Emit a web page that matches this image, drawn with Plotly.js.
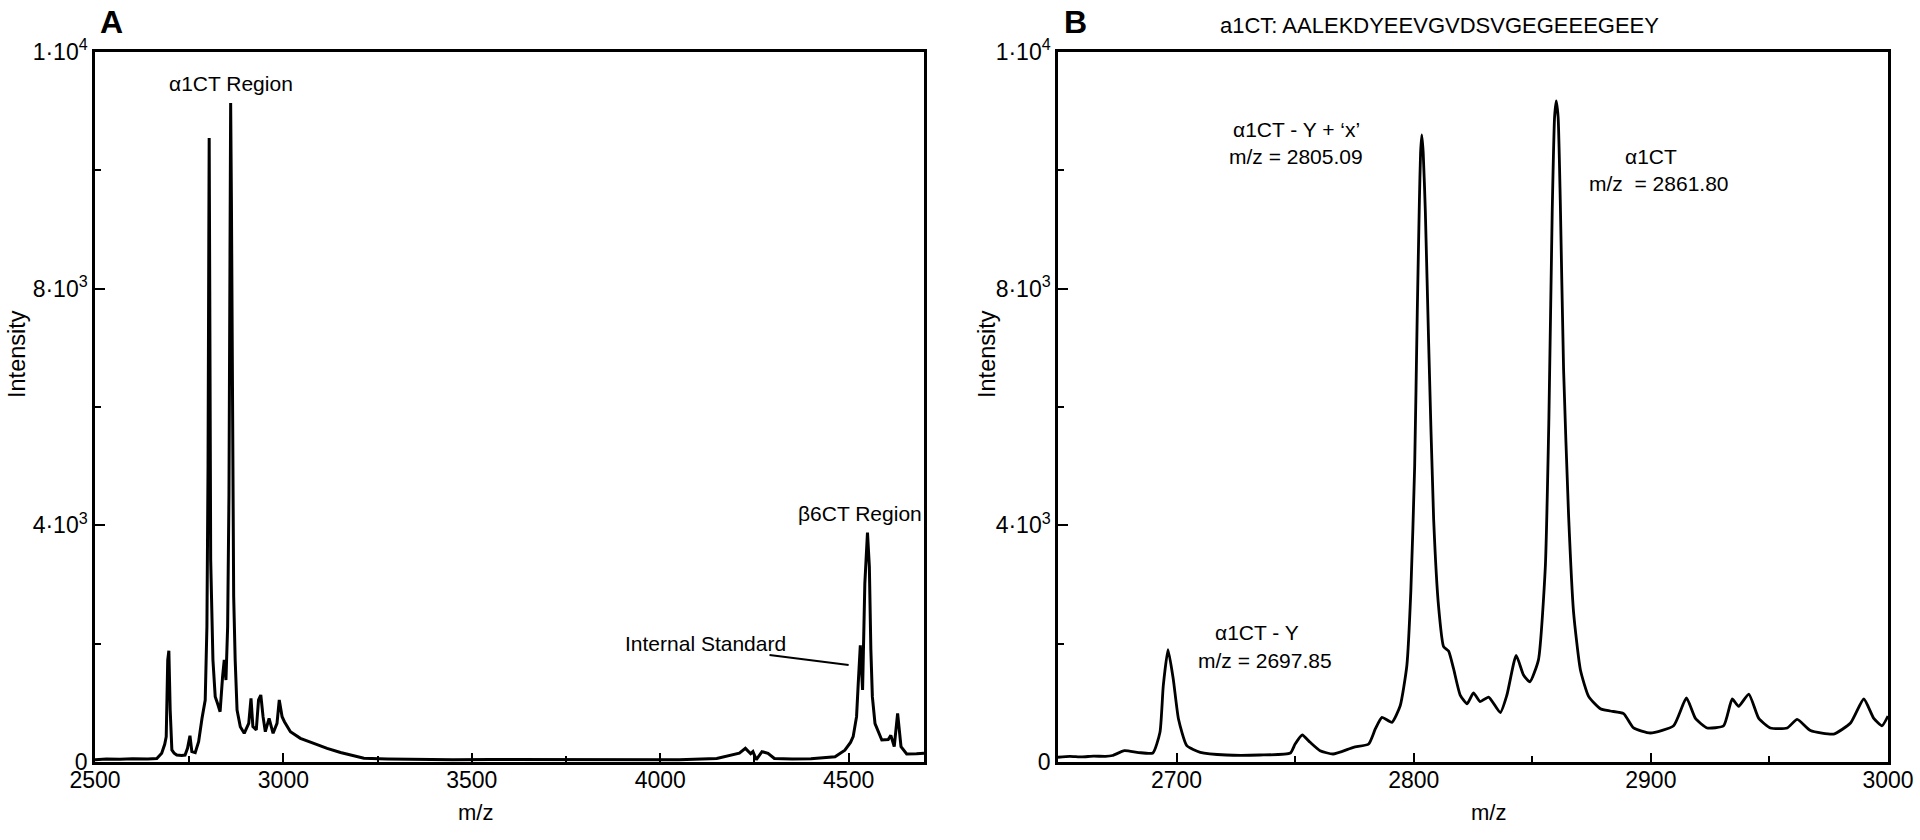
<!DOCTYPE html>
<html>
<head>
<meta charset="utf-8">
<script src="https://cdn.plot.ly/plotly-3.0.1.min.js"></script>
<style>html,body{margin:0;padding:0;background:#fff;}#chart{width:1920px;height:840px;}</style>
</head>
<body>
<div id="chart"></div>
<script>
// Panel A: full spectrum
const mzA = [2500,2530,2566,2600,2640,2664,2677,2685,2689,2693,2696,2698,2699.5,2704,2710,2717,2730,2739,2745.5,2752,2757,2766,2775,2784,2792.5,2797,2800,2802,2803,2804.5,2807,2813,2819,2825,2832,2838.6,2843,2847.5,2852,2855.5,2858,2860,2862,2865,2868,2872,2877,2885.6,2896,2908,2914,2919,2928,2934,2940,2946,2952,2962,2972.6,2983,2989,2996.5,3002.7,3018.6,3045,3080.6,3116,3151.6,3213.6,3275.8,3350,3450,3550,3650,3750,3850,3950,4050,4150,4189,4210,4226,4240,4246,4255,4270,4286,4303,4350,4400,4464,4490,4505,4512,4521,4525.5,4531,4537,4543,4550,4555,4559,4563,4570,4579,4588,4605,4612,4621,4630,4639,4654,4680,4700];
const intensityA = [40,50,45,55,50,60,147,300,428,1724,1880,1300,879,203,150,118,110,118,231,445,175,158,343,738,1048,2287,5000,8800,10546,8000,3414,1724,1104,992,850,1442,1724,1386,2287,4500,9000,11137,9500,4500,2800,1724,879,597,485,654,1076,597,541,1048,1132,766,512,738,485,654,1048,766,681,512,400,316,231,160,62,51,45,40,42,40,45,40,42,40,60,118,150,231,140,175,40,175,147,60,50,55,90,200,330,428,766,1330,1970,1217,3020,3876,3301,1893,1100,650,500,372,380,450,259,823,259,135,140,147];

// Panel B: zoom on the a1CT region
const mzB = [2650,2655,2660,2665,2670,2673,2678,2684,2690,2693,2694.4,2696.4,2698.6,2700.8,2704.3,2710,2721,2735,2748,2750,2753,2756.3,2760.5,2766,2774.6,2781,2783.8,2786.6,2790.8,2794.3,2797.1,2798.8,2800.4,2801.5,2802.4,2802.9,2803.4,2804.0,2804.9,2806.3,2808.4,2810.5,2812.6,2814.7,2816.8,2819.6,2822.5,2825.2,2828,2831.6,2836.5,2839.3,2843.2,2846.3,2849,2852.6,2855.5,2857,2858.4,2859.4,2860.1,2860.9,2861.8,2863.2,2865.3,2867.4,2870.3,2873.8,2878.7,2882.9,2888.5,2892.7,2899.8,2909.6,2915,2918.8,2923.7,2930.7,2934.3,2937,2941.3,2945.5,2950.4,2957.5,2961.7,2967.3,2977.1,2984.2,2989.8,2994,2997.5,3000];
const intensityB = [80,95,85,100,95,110,191,160,152,502,1290,1898,1403,727,276,164,118,118,152,304,456,333,191,135,248,304,558,755,671,951,1627,2900,5000,7600,9500,10300,10600,10300,9312,7081,4107,2620,1950,1876,1578,1132,984,1169,1021,1098,835,1132,1801,1470,1355,1727,3300,5800,9300,10900,11174,10900,9498,6631,4174,2535,1555,1105,901,862,818,575,490,613,1082,737,575,613,1065,941,1149,737,575,575,720,532,473,659,1065,737,613,777];

// Tick labels
const yTickVals = [0, 4000, 8000, 12000];
const yTickText = ['0', '4·10<sup>3</sup>', '8·10<sup>3</sup>', '1·10<sup>4</sup>'];

const FONT = 'Liberation Sans, Arial, Helvetica, sans-serif';
const W = 1920, H = 840;
const px = v => v / W, py = v => 1 - v / H;

const traces = [
  {x: mzA, y: intensityA, type: 'scatter', mode: 'lines', line: {color: '#000', width: 3}, xaxis: 'x', yaxis: 'y', hoverinfo: 'skip'},
  {x: mzB, y: intensityB, type: 'scatter', mode: 'lines', line: {color: '#000', width: 2.8, shape: 'spline', smoothing: 0.5}, xaxis: 'x2', yaxis: 'y2', hoverinfo: 'skip'}
];

const axisCommon = {
  showline: true, linecolor: '#000', linewidth: 2.5, mirror: true,
  showgrid: false, zeroline: false, ticks: 'inside', tickcolor: '#000',
  tickwidth: 2, ticklen: 10, tickfont: {family: FONT, size: 23, color: '#000'}
};
const yAxis = Object.assign({}, axisCommon, {
  domain: [py(762), py(52)], range: [0, 12000], tickmode: 'array',
  tickvals: yTickVals, ticktext: yTickText,
  minor: {tickmode: 'linear', tick0: 0, dtick: 2000, ticks: 'inside', ticklen: 6, tickwidth: 2, tickcolor: '#000'}
});

function paperText(text, x, y, size, extra) {
  return Object.assign({text: text, xref: 'paper', yref: 'paper', x: px(x), y: py(y),
    xanchor: 'center', yanchor: 'middle', showarrow: false, font: {family: FONT, size: size, color: '#000'}}, extra || {});
}
function dataText(text, ax, x, y, extra) {
  return Object.assign({text: text, xref: 'x' + ax, yref: 'y' + ax, x: x, y: y,
    xanchor: 'center', yanchor: 'middle', showarrow: false, font: {family: FONT, size: 21, color: '#000'}}, extra || {});
}

const layout = {
  width: W, height: H, margin: {l: 0, r: 0, t: 0, b: 0},
  paper_bgcolor: '#fff', plot_bgcolor: '#fff', showlegend: false,
  font: {family: FONT, size: 22, color: '#000'},
  xaxis: Object.assign({}, axisCommon, {
    domain: [px(95), px(924)], range: [2500, 4700], anchor: 'y',
    tickmode: 'linear', tick0: 2500, dtick: 500, ticklen: 9, ticklabelstandoff: -4,
    minor: {tickmode: 'linear', tick0: 2500, dtick: 250, ticks: 'inside', ticklen: 6, tickwidth: 2, tickcolor: '#000'}
  }),
  yaxis: Object.assign({}, yAxis, {anchor: 'x'}),
  xaxis2: Object.assign({}, axisCommon, {
    domain: [px(1058), px(1888)], range: [2650, 3000], anchor: 'y2',
    tickmode: 'linear', tick0: 2700, dtick: 100, ticklen: 9, ticklabelstandoff: -4,
    minor: {tickmode: 'linear', tick0: 2650, dtick: 50, ticks: 'inside', ticklen: 6, tickwidth: 2, tickcolor: '#000'}
  }),
  yaxis2: Object.assign({}, yAxis, {anchor: 'x2'}),
  shapes: [
    {type: 'line', xref: 'x', yref: 'y', x0: 4290, y0: 1808, x1: 4500, y1: 1639, line: {color: '#000', width: 2}}
  ],
  annotations: [
    paperText('<b>A</b>', 111, 22, 32),
    paperText('<b>B</b>', 1075, 22, 32),
    paperText('a1CT: AALEKDYEEVGVDSVGEGEEEGEEY', 1218, 25, 22, {xanchor: 'left'}),
    paperText('Intensity', 17, 354, 23.5, {textangle: -90}),
    paperText('Intensity', 987, 354, 23.5, {textangle: -90}),
    paperText('m/z', 475, 812, 22),
    paperText('m/z', 1488, 812, 22),
    dataText('α1CT Region', '', 2862, 11475),
    dataText('β6CT Region', '', 4529, 4208),
    dataText('Internal Standard', '', 4340, 2011, {xanchor: 'right'}),
    dataText('α1CT - Y + ‘x’', '2', 2750.4, 10698),
    dataText('m/z = 2805.09', '2', 2750.4, 10241),
    dataText('α1CT', '2', 2900.2, 10241),
    dataText('m/z\u00a0 = 2861.80', '2', 2903.6, 9785),
    dataText('α1CT - Y', '2', 2734, 2197),
    dataText('m/z = 2697.85', '2', 2737.1, 1724)
  ]
};

Plotly.newPlot('chart', traces, layout, {displayModeBar: false, responsive: false});
</script>
</body>
</html>
